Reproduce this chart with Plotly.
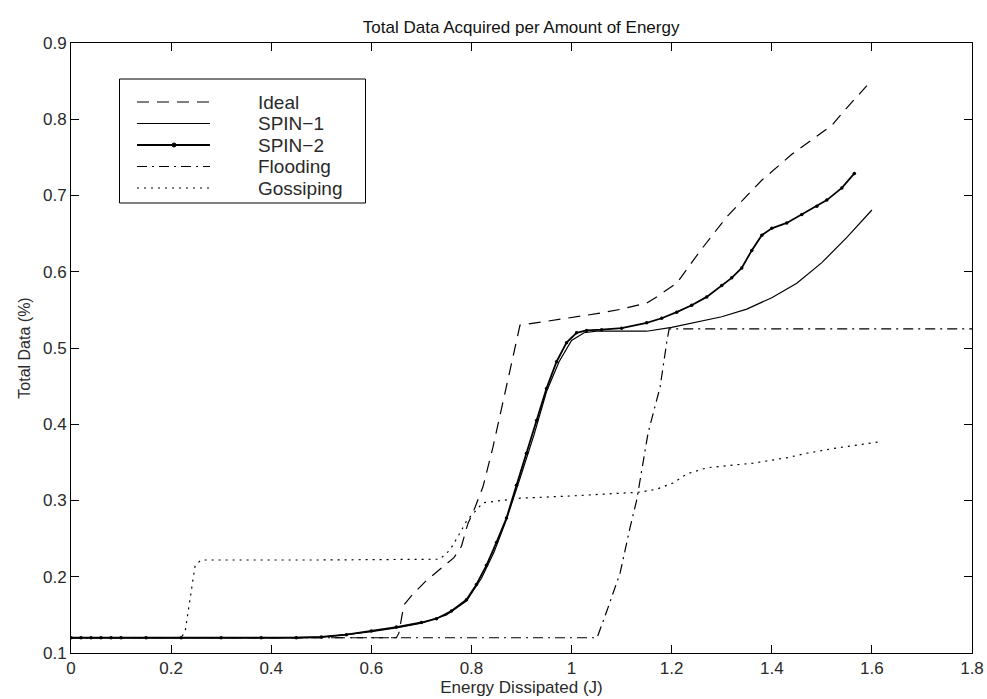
import plotly.graph_objects as go

# Energy dissipated (J) and total data acquired (%) for each protocol
ideal_x = [0, 0.3, 0.6, 0.65, 0.655, 0.665, 0.68, 0.71, 0.743, 0.765, 0.78, 0.793, 0.803,
           0.823, 0.843, 0.863, 0.877, 0.887, 0.897, 0.95, 1.0, 1.05, 1.1, 1.15, 1.17, 1.21,
           1.26, 1.31, 1.38, 1.44, 1.48, 1.52, 1.55, 1.59]
ideal_y = [0.12, 0.12, 0.12, 0.12, 0.126, 0.163, 0.175, 0.195, 0.213, 0.225, 0.24, 0.27, 0.284,
           0.318, 0.370, 0.428, 0.471, 0.501, 0.530, 0.535, 0.540, 0.545, 0.551, 0.559, 0.567, 0.585,
           0.630, 0.672, 0.720, 0.754, 0.773, 0.792, 0.815, 0.844]

spin1_x = [0, 0.1, 0.2, 0.3, 0.4, 0.5, 0.55, 0.6, 0.65, 0.7, 0.75, 0.79, 0.82, 0.845, 0.87,
           0.9, 0.925, 0.95, 0.975, 1.0, 1.025, 1.05, 1.1, 1.15, 1.2, 1.25, 1.3, 1.35, 1.4,
           1.45, 1.5, 1.55, 1.6]
spin1_y = [0.12, 0.12, 0.12, 0.12, 0.12, 0.121, 0.124, 0.128, 0.133, 0.139, 0.150, 0.168, 0.198,
           0.232, 0.275, 0.335, 0.386, 0.443, 0.482, 0.510, 0.520, 0.522, 0.522, 0.522, 0.527,
           0.534, 0.541, 0.551, 0.566, 0.585, 0.612, 0.645, 0.681]

spin2_x = [0, 0.02, 0.04, 0.06, 0.08, 0.1, 0.15, 0.22, 0.3, 0.38, 0.45, 0.5, 0.55, 0.6, 0.65,
           0.7, 0.73, 0.76, 0.79, 0.81, 0.83, 0.85, 0.87, 0.89, 0.91, 0.93, 0.95, 0.97, 0.99,
           1.01, 1.03, 1.06, 1.1, 1.15, 1.18, 1.21, 1.24, 1.27, 1.3, 1.32, 1.34, 1.36, 1.38,
           1.40, 1.43, 1.46, 1.49, 1.51, 1.54, 1.565]
spin2_y = [0.12, 0.12, 0.12, 0.12, 0.12, 0.12, 0.12, 0.12, 0.12, 0.12, 0.12, 0.121, 0.124, 0.129,
           0.134, 0.14, 0.145, 0.155, 0.170, 0.19, 0.215, 0.245, 0.277, 0.320, 0.362, 0.405,
           0.447, 0.482, 0.507, 0.520, 0.523, 0.524, 0.526, 0.533, 0.539, 0.547, 0.556, 0.567,
           0.582, 0.592, 0.605, 0.628, 0.648, 0.657, 0.664, 0.675, 0.686, 0.694, 0.71, 0.729]

flood_x = [0, 1.051, 1.071, 1.097, 1.117, 1.130, 1.153, 1.177, 1.190, 1.195, 1.3, 1.5, 1.8]
flood_y = [0.12, 0.12, 0.156, 0.205, 0.265, 0.300, 0.389, 0.449, 0.507, 0.525, 0.525, 0.525, 0.525]

gossip_x = [0, 0.22, 0.228, 0.238, 0.248, 0.26, 0.5, 0.737, 0.757, 0.775, 0.791, 0.823, 0.86,
            0.897, 1.0, 1.097, 1.137, 1.171, 1.203, 1.231, 1.271, 1.363, 1.43, 1.47, 1.53, 1.616]
gossip_y = [0.12, 0.12, 0.128, 0.17, 0.215, 0.222, 0.222, 0.223, 0.235, 0.255, 0.274, 0.297, 0.300,
            0.303, 0.306, 0.310, 0.311, 0.315, 0.323, 0.335, 0.343, 0.349, 0.356, 0.362, 0.369, 0.377]

x_ticks = [0, 0.2, 0.4, 0.6, 0.8, 1, 1.2, 1.4, 1.6, 1.8]
x_labels = ["0", "0.2", "0.4", "0.6", "0.8", "1", "1.2", "1.4", "1.6", "1.8"]
y_ticks = [0.1, 0.2, 0.3, 0.4, 0.5, 0.6, 0.7, 0.8, 0.9]
y_labels = ["0.1", "0.2", "0.3", "0.4", "0.5", "0.6", "0.7", "0.8", "0.9"]

series_names = ["Ideal", "SPIN\u22121", "SPIN\u22122", "Flooding", "Gossiping"]

FONT = "Liberation Sans, Arial, sans-serif"
TEXT = "#2a2a2a"

W, H = 987, 699
M_L, M_R, M_T, M_B = 71, 15, 43, 46
PLOT_W = W - M_L - M_R
PLOT_H = H - M_T - M_B


def px_x(p):
    """Page pixel column -> paper fraction."""
    return (p - M_L) / PLOT_W


def px_y(p):
    """Page pixel row -> paper fraction."""
    return (H - M_B - p) / PLOT_H


styles = [
    dict(color="black", width=1.2, dash="12px,8px"),
    dict(color="black", width=1.2),
    dict(color="black", width=1.8),
    dict(color="black", width=1.2, dash="10px,5px,2px,5px"),
    dict(color="black", width=1.2, dash="2px,5px"),
]

fig = go.Figure()
data = [(ideal_x, ideal_y), (spin1_x, spin1_y), (spin2_x, spin2_y),
        (flood_x, flood_y), (gossip_x, gossip_y)]
for i, ((xs, ys), name, st) in enumerate(zip(data, series_names, styles)):
    if i == 2:
        fig.add_trace(go.Scatter(x=xs, y=ys, mode="lines+markers", name=name, line=st,
                                 marker=dict(color="black", size=3.5)))
    else:
        fig.add_trace(go.Scatter(x=xs, y=ys, mode="lines", name=name, line=st))

axis_common = dict(showline=True, linecolor="black", linewidth=1, mirror="ticks",
                   ticks="inside", ticklen=8, tickcolor="black", tickwidth=1,
                   showgrid=False, zeroline=False, automargin=False,
                   tickfont=dict(family=FONT, size=17, color=TEXT))

fig.update_xaxes(range=[0, 1.8], tickvals=x_ticks, ticktext=x_labels,
                 title=dict(text="Energy Dissipated (J)", standoff=2,
                            font=dict(family=FONT, size=17, color=TEXT)),
                 **axis_common)
fig.update_yaxes(range=[0.1, 0.9], tickvals=y_ticks, ticktext=y_labels,
                 title=dict(text="Total Data (%)", standoff=8,
                            font=dict(family=FONT, size=16, color=TEXT)),
                 **axis_common)

# Boxed key in the upper-left corner of the axes
shapes = [dict(type="rect", xref="paper", yref="paper",
               x0=px_x(119.5), x1=px_x(365.5), y0=px_y(203), y1=px_y(79),
               line=dict(color="black", width=1), fillcolor="white", layer="above")]
annotations = []
row0, row_step = 102, 21.5
for i, (name, st) in enumerate(zip(series_names, styles)):
    ry = row0 + i * row_step
    shapes.append(dict(type="line", xref="paper", yref="paper",
                       x0=px_x(137), x1=px_x(210), y0=px_y(ry), y1=px_y(ry),
                       line=dict(color=st["color"], width=st["width"],
                                 dash=st.get("dash", "solid")),
                       layer="above"))
    if i == 2:
        shapes.append(dict(type="circle", xref="paper", yref="paper",
                           x0=px_x(172), x1=px_x(176), y0=px_y(ry + 2), y1=px_y(ry - 2),
                           line=dict(color="black", width=1), fillcolor="black",
                           layer="above"))
    annotations.append(dict(text=name, xref="paper", yref="paper",
                            x=px_x(256), y=px_y(ry), xanchor="left", yanchor="middle",
                            showarrow=False,
                            font=dict(family=FONT, size=19, color=TEXT)))

fig.update_layout(
    template="none",
    width=W, height=H,
    margin=dict(l=M_L, r=M_R, t=M_T, b=M_B, autoexpand=False),
    paper_bgcolor="white", plot_bgcolor="white",
    title=dict(text="Total Data Acquired per Amount of Energy", x=0.528, xanchor="center",
               y=1 - 27 / H, yanchor="middle",
               font=dict(family=FONT, size=17, color="#111111")),
    showlegend=False,
    shapes=shapes,
    annotations=annotations,
)

fig.write_html("out.html")
